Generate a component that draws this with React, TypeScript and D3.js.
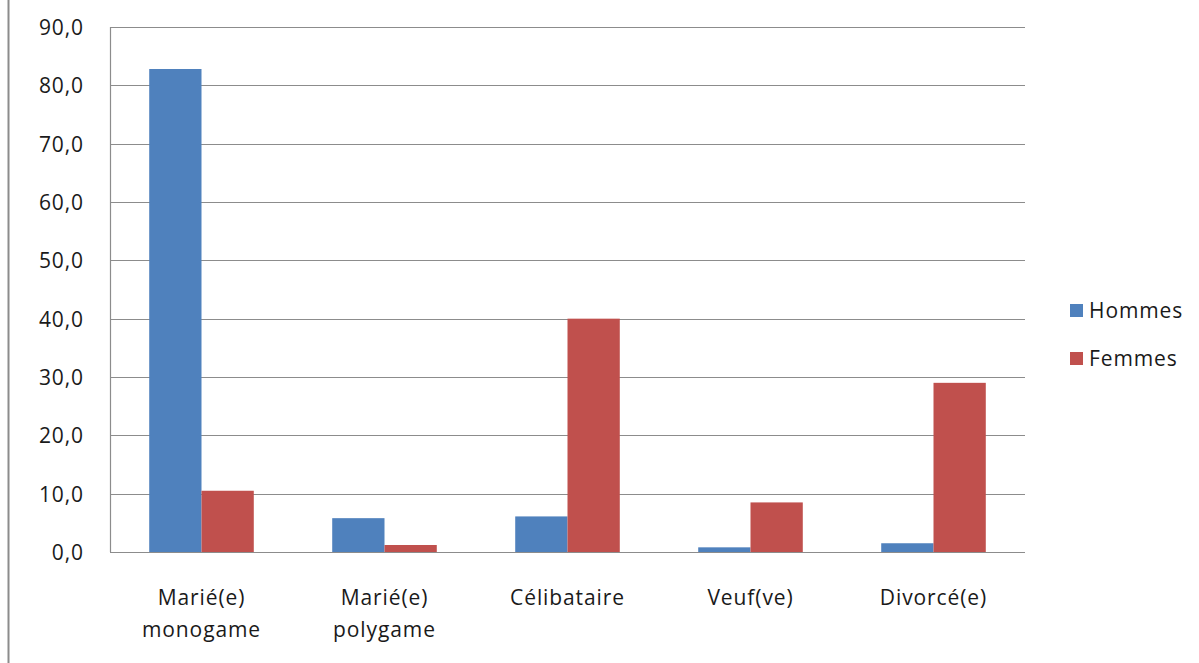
import React from "react";
import * as d3 from "d3";

const categories = [["Marié(e)", "monogame"], ["Marié(e)", "polygame"], ["Célibataire"], ["Veuf(ve)"], ["Divorcé(e)"]];
const seriesNames = ["Hommes", "Femmes"];
const hommes = [82.8, 5.8, 6.1, 0.8, 1.5];
const femmes = [10.5, 1.2, 40.0, 8.5, 29.0];
const yTicks = [0, 10, 20, 30, 40, 50, 60, 70, 80, 90];
const colors = ["#4f81bd", "#c0504d"];

export default function App() {
  const W = 1199, H = 663;
  const left = 110, right = 1025, top = 27, bottom = 552;
  const x = d3.scaleBand().domain(d3.range(categories.length).map(String)).range([left, right]).paddingInner(0).paddingOuter(0);
  const y = d3.scaleLinear().domain([0, 90]).range([bottom, top]);
  const bw = x.bandwidth() / 3.5;
  const series = [hommes, femmes];
  const font = "'Open Sans', 'Noto Sans', sans-serif";
  const fs = 21;
  const ls = 0.9;
  return (
    <svg width={W} height={H} style={{ position: "absolute", left: 0, top: 0, background: "#fff" }}>
      <line x1={8.5} x2={8.5} y1={0} y2={H} stroke="#8c8c8c" strokeWidth={2} />
      {yTicks.map((t) => (
        <g key={t}>
          <line x1={left} x2={right} y1={Math.round(y(t)) + 0.5} y2={Math.round(y(t)) + 0.5} stroke="#8c8c8c" strokeWidth={1.2} />
          <text x={84} y={y(t) + 8} textAnchor="end" fontFamily={font} fontSize={fs} letterSpacing={ls} fill="#1a1a1a">{t.toFixed(1).replace(".", ",")}</text>
        </g>
      ))}
      <line x1={left + 0.5} x2={left + 0.5} y1={top} y2={bottom} stroke="#8c8c8c" strokeWidth={1.2} />
      {series.map((vals, si) =>
        vals.map((v, i) => {
          const cx = x(String(i))! + x.bandwidth() / 2;
          const x0 = cx - bw + si * bw;
          return <rect key={si + "-" + i} x={x0} y={y(v)} width={bw} height={bottom - y(v)} fill={colors[si]} />;
        })
      )}
      {categories.map((lines, i) => {
        const cx = x(String(i))! + x.bandwidth() / 2;
        return (
          <text key={i} x={cx} y={605} textAnchor="middle" fontFamily={font} fontSize={fs} letterSpacing={ls} fill="#1a1a1a">
            {lines.map((l, j) => (
              <tspan key={j} x={cx} dy={j === 0 ? 0 : 32}>{l}</tspan>
            ))}
          </text>
        );
      })}
      {seriesNames.map((n, i) => (
        <g key={n}>
          <rect x={1070} y={304 + i * 48} width={13} height={13} fill={colors[i]} />
          <text x={1089} y={318 + i * 48} fontFamily={font} fontSize={fs} letterSpacing={ls} fill="#1a1a1a">{n}</text>
        </g>
      ))}
    </svg>
  );
}
